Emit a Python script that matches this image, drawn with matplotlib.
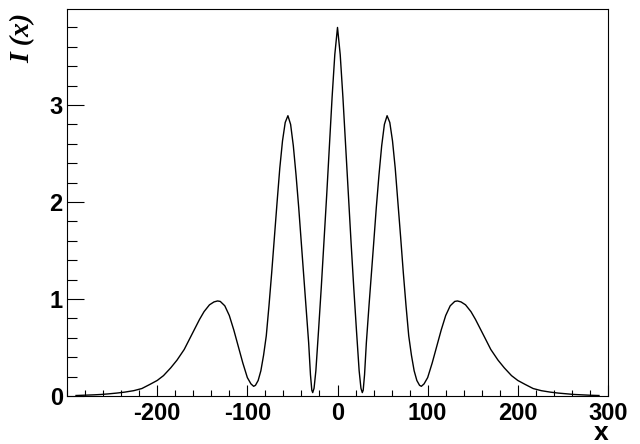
import numpy as np
import matplotlib
matplotlib.use("Agg")
import matplotlib.pyplot as plt
from matplotlib.ticker import MultipleLocator

# points (x, I(x))
x_vals = [-290, -280, -270, -262, -254, -245, -236, -226, -217, -208, -200,
          -193, -185, -178, -170, -164, -158, -153, -148, -142, -137, -133,
          -130, -125, -120, -115, -110, -105, -100, -96, -93, -91, -88, -85,
          -82, -79, -76, -73, -70, -67, -64, -61, -58, -55, -52, -49, -46,
          -43, -40, -37.8, -35, -32, -30, -28.5, -27.5, -26, -24, -21, -18,
          -15, -12, -9, -6, -3, 0,
          3, 6, 9, 12, 15, 18, 21, 24, 26, 27.5, 28.5, 30, 32, 35, 37.8,
          40, 43, 46, 49, 52, 55, 58, 61, 64, 67, 70, 73, 76, 79, 82, 85,
          88, 91, 93, 96, 100, 105, 110, 115, 120, 125, 130, 133, 137, 142,
          148, 153, 158, 164, 170, 178, 185, 193, 200, 208, 217, 226, 236,
          245, 254, 262, 270, 280, 290]
i_vals = [0.005, 0.008, 0.012, 0.016, 0.022, 0.030, 0.040, 0.055, 0.077, 0.120, 0.160,
          0.210, 0.290, 0.370, 0.480, 0.590, 0.700, 0.790, 0.870, 0.940, 0.970, 0.980,
          0.975, 0.930, 0.830, 0.680, 0.510, 0.340, 0.190, 0.125, 0.100, 0.110, 0.160, 0.260,
          0.420, 0.620, 0.930, 1.270, 1.640, 2.000, 2.350, 2.630, 2.820, 2.890, 2.800, 2.580, 2.280,
          1.940, 1.560, 1.280, 0.940, 0.550, 0.220, 0.060, 0.035, 0.080, 0.260, 0.680, 1.120,
          1.590, 2.070, 2.580, 3.080, 3.520, 3.800,
          3.520, 3.080, 2.580, 2.070, 1.590, 1.120, 0.680, 0.260, 0.080, 0.035, 0.060, 0.220, 0.550, 0.940, 1.280,
          1.560, 1.940, 2.280, 2.580, 2.800, 2.890, 2.820, 2.630, 2.350, 2.000, 1.640, 1.270, 0.930, 0.620, 0.420, 0.260,
          0.160, 0.110, 0.100, 0.125, 0.190, 0.340, 0.510, 0.680, 0.830, 0.930, 0.975, 0.980, 0.970, 0.940,
          0.870, 0.790, 0.700, 0.590, 0.480, 0.370, 0.290, 0.210, 0.160, 0.120, 0.077, 0.055, 0.040,
          0.030, 0.022, 0.016, 0.012, 0.008, 0.005]

x_ticks = [-200, -100, 0, 100, 200, 300]
y_ticks = [0, 1, 2, 3]

plt.rcParams['font.family'] = ['Liberation Sans', 'DejaVu Sans']
plt.rcParams['axes.unicode_minus'] = False

fig = plt.figure(figsize=(6.4, 4.44), dpi=100)
ax = fig.add_axes([0.1047, 0.1081, 0.8453, 0.8716])

ax.plot(x_vals, i_vals, color='black', lw=1.0)

ax.set_xlim(-300, 300)
ax.set_ylim(0, 3.99)

ax.set_xticks(x_ticks)
ax.set_yticks(y_ticks)
ax.xaxis.set_minor_locator(MultipleLocator(20))
ax.yaxis.set_minor_locator(MultipleLocator(0.2))

ax.tick_params(axis='both', which='both', direction='in', top=False, right=False,
               color='black', width=0.8)
ax.tick_params(axis='x', which='major', length=8, pad=4.5)
ax.tick_params(axis='x', which='minor', length=4)
ax.tick_params(axis='y', which='major', length=12, pad=3)
ax.tick_params(axis='y', which='minor', length=7)

for lab in ax.get_xticklabels() + ax.get_yticklabels():
    lab.set_fontsize(17)
    lab.set_fontweight('bold')

for sp in ax.spines.values():
    sp.set_linewidth(0.8)

fig.text(0.95, 0.008, 'x', ha='right', va='baseline', fontsize=19,
         fontweight='bold')
fig.text(0.036, 0.915, 'I (x)', rotation=90, ha='center', va='center',
         fontsize=20, family='Liberation Serif', style='italic',
         fontweight='bold')

fig.savefig('out.png', dpi=100)
